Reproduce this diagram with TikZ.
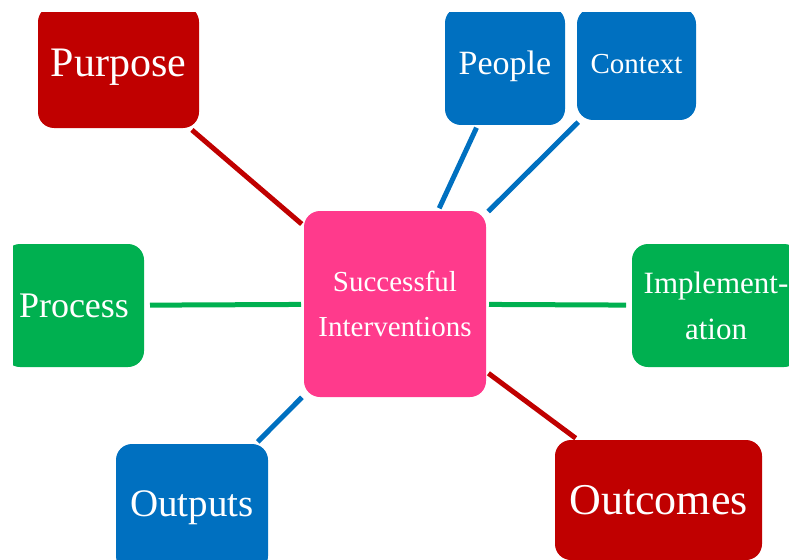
\documentclass[tikz,border=0pt]{standalone}
\usepackage{fontspec}
\setmainfont{Liberation Serif}
\usetikzlibrary{positioning}
\definecolor{boxred}{HTML}{C00000}
\definecolor{boxblue}{HTML}{0070C0}
\definecolor{boxgreen}{HTML}{00B050}
\definecolor{boxpink}{HTML}{FF3A8C}
\tikzset{x=1pt, y=-1pt, minimum size=0pt}
\tikzstyle{box} = [rectangle, rounded corners=16pt, text=white, inner sep=0pt, outer sep=0pt, align=center]
\tikzstyle{link} = [line width=5pt, shorten >=3pt, shorten <=3pt]
\newcommand{\fs}[2]{\fontsize{#1}{#2}\selectfont}

\begin{document}
\begin{tikzpicture}
		\useasboundingbox (0,0) rectangle (789,559);
		\clip (13,13) rectangle (789,559);
		\node [box, fill=boxpink, minimum width=182pt, minimum height=186pt, font=\fs{29}{45}] (hub) at (395,304) {Successful\\Interventions};
		\node [box, fill=boxred, minimum width=161pt, minimum height=122pt, font=\fs{42}{42}] (purpose) at (118.5,67) {Purpose};
		\node [box, fill=boxblue, minimum width=120pt, minimum height=118pt, font=\fs{34}{34}] (people) at (505,66) {People};
		\node [box, fill=boxblue, minimum width=119pt, minimum height=112pt, font=\fs{29}{29}] (context) at (636.5,64) {Context};
		\node [box, fill=boxgreen, minimum width=140pt, minimum height=123pt, font=\fs{36}{36}] (process) at (74,305.5) {Process};
		\node [box, fill=boxgreen, minimum width=168pt, minimum height=123pt, font=\fs{31}{46}] (implement) at (716,305.5) {Implement-\\ation};
		\node [box, fill=boxblue, minimum width=152pt, minimum height=128pt, font=\fs{39}{39}] (outputs) at (192,508) {Outputs};
		\node [box, fill=boxred, minimum width=207pt, minimum height=120pt, font=\fs{44}{44}] (outcomes) at (658.5,500) {Outcomes};

		\draw [link, boxred] (purpose) -- (hub);
		\draw [link, boxblue] (people) -- (hub);
		\draw [link, boxblue] (context) -- (hub);
		\draw [link, boxgreen, shorten <=6pt] (process) -- (hub);
		\draw [link, boxgreen, shorten >=6pt] (hub) -- (implement);
		\draw [link, boxblue] (outputs) -- (hub);
		\draw [link, boxred] (outcomes) -- (hub);
	\end{tikzpicture}
\end{document}
